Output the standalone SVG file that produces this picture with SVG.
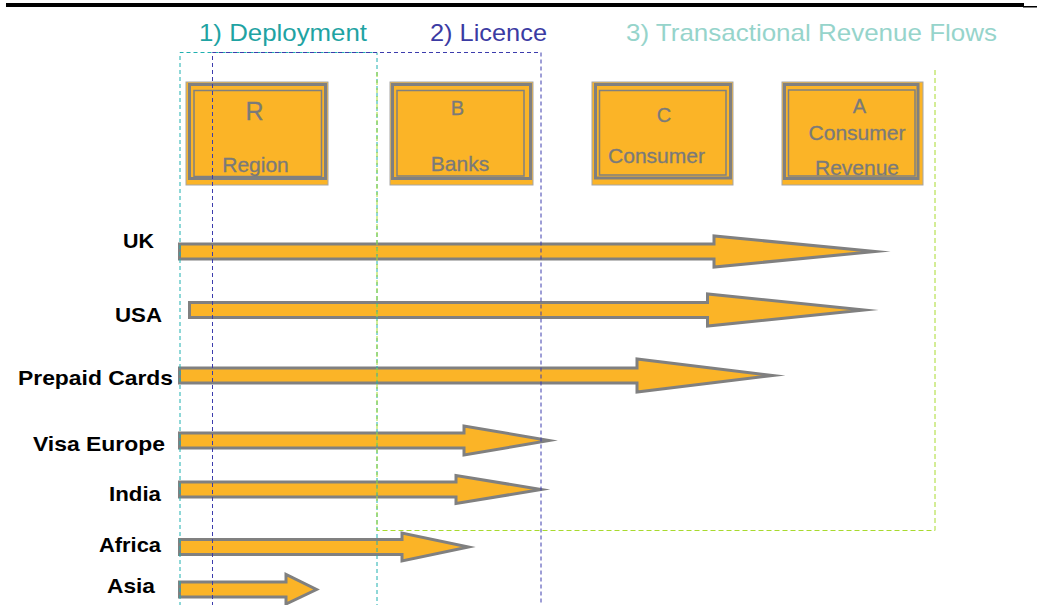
<svg xmlns="http://www.w3.org/2000/svg" width="1037" height="605" viewBox="0 0 1037 605">
  <defs>
    <style>
      .box-fill { fill: #FBB427; stroke: #A6A6A6; stroke-width: 1; }
      .box-thick { fill: none; stroke: #808080; stroke-width: 3; }
      .box-thin { fill: none; stroke: #808080; stroke-width: 1.5; }
      .box-text { font-family: "Liberation Sans", Arial, sans-serif; fill: #7A7A7A; stroke: #7A7A7A; stroke-width: 0.3; text-anchor: middle; }
      .flow { fill: #FBB427; stroke: #808080; stroke-width: 3; stroke-linejoin: miter; stroke-miterlimit: 30; }
      .row-label { font-family: "Liberation Sans", Arial, sans-serif; font-weight: bold; font-size: 21px; fill: #000000; }
      .title { font-family: "Liberation Sans", Arial, sans-serif; font-size: 24px; }
      .frame { fill: none; stroke-width: 1; }
    </style>
  </defs>

  <rect width="1037" height="605" fill="#FFFFFF"/>

  <!-- header rule -->
  <rect x="6" y="3" width="1018" height="4" fill="#000000"/>
  <rect x="1023" y="6" width="14" height="1.5" fill="#000000"/>

  <!-- section titles -->
  <text class="title" x="199" y="41" fill="#1FA3A3" textLength="168" lengthAdjust="spacingAndGlyphs">1) Deployment</text>
  <text class="title" x="430" y="41" fill="#3B3BA3" textLength="117" lengthAdjust="spacingAndGlyphs">2) Licence</text>
  <text class="title" x="626" y="41" fill="#96D4CB" textLength="371" lengthAdjust="spacingAndGlyphs">3) Transactional Revenue Flows</text>

  <!-- nodes -->
  <g id="node-region">
    <rect class="box-fill" x="186" y="82" width="142" height="103"/>
    <rect class="box-thick" x="189.5" y="84.5" width="136" height="94"/>
    <rect class="box-thin" x="194" y="90.5" width="127.5" height="86"/>
    <text class="box-text" x="254.5" y="120" font-size="25">R</text>
    <text class="box-text" x="255.5" y="172" font-size="21">Region</text>
  </g>
  <g id="node-banks">
    <rect class="box-fill" x="390" y="82" width="143" height="103"/>
    <rect class="box-thick" x="392.5" y="84.5" width="138" height="94"/>
    <rect class="box-thin" x="397" y="90.5" width="127" height="85.5"/>
    <text class="box-text" x="457.5" y="115" font-size="20">B</text>
    <text class="box-text" x="460" y="171" font-size="21">Banks</text>
  </g>
  <g id="node-consumer">
    <rect class="box-fill" x="592" y="82" width="141" height="103"/>
    <rect class="box-thick" x="595.5" y="84.5" width="135" height="93.5"/>
    <rect class="box-thin" x="599.5" y="90.5" width="126.5" height="84.5"/>
    <text class="box-text" x="664" y="122" font-size="20">C</text>
    <text class="box-text" x="656.5" y="163" font-size="21">Consumer</text>
  </g>
  <g id="node-revenue">
    <rect class="box-fill" x="782" y="82" width="141" height="103"/>
    <rect class="box-thick" x="784.5" y="84.5" width="133.5" height="94"/>
    <text class="box-text" x="859.5" y="113" font-size="20">A</text>
    <text class="box-text" x="857" y="140" font-size="21">Consumer</text>
    <text class="box-text" x="857" y="175" font-size="21">Revenue</text>
    <rect class="box-thin" x="788.5" y="90" width="126.5" height="86"/>
  </g>

  <!-- flow arrows per market -->
  <g id="flows">
    <g id="row-uk">
      <text class="row-label" x="123" y="248" textLength="31" lengthAdjust="spacingAndGlyphs">UK</text>
      <polygon class="flow" points="179.5,244 714,244 714,236 875,251.5 714,267 714,259 179.5,259"/>
    </g>
    <g id="row-usa">
      <text class="row-label" x="115" y="322" textLength="47" lengthAdjust="spacingAndGlyphs">USA</text>
      <polygon class="flow" points="189.5,302.5 707.5,302.5 707.5,294 864,310 707.5,326 707.5,317.5 189.5,317.5"/>
    </g>
    <g id="row-prepaid">
      <text class="row-label" x="18" y="385" textLength="155" lengthAdjust="spacingAndGlyphs">Prepaid Cards</text>
      <polygon class="flow" points="179.5,368 637,368 637,359 773,375.5 637,392 637,383 179.5,383"/>
    </g>
    <g id="row-visa-europe">
      <text class="row-label" x="33" y="451" textLength="132" lengthAdjust="spacingAndGlyphs">Visa Europe</text>
      <polygon class="flow" points="179.5,433 464,433 464,426 549,440.5 464,455 464,448 179.5,448"/>
    </g>
    <g id="row-india">
      <text class="row-label" x="109" y="501" textLength="52" lengthAdjust="spacingAndGlyphs">India</text>
      <polygon class="flow" points="179.5,482 456,482 456,475.5 541,489.5 456,503.5 456,497 179.5,497"/>
    </g>
    <g id="row-africa">
      <text class="row-label" x="99" y="552" textLength="62" lengthAdjust="spacingAndGlyphs">Africa</text>
      <polygon class="flow" points="179.5,539.5 402,539.5 402,533 468.5,547 402,561 402,554.5 179.5,554.5"/>
    </g>
    <g id="row-asia">
      <text class="row-label" x="107" y="593" textLength="48" lengthAdjust="spacingAndGlyphs">Asia</text>
      <polygon class="flow" points="179.5,582 286,582 286,574.5 316.5,589.5 286,604 286,597 179.5,597"/>
    </g>
  </g>

  <!-- dashed section frames -->
  <g id="frames">
    <path class="frame" d="M180,606 V52.5 H377 V606" stroke="#1FB0B0" stroke-dasharray="4 3"/>
    <path class="frame" d="M212.5,606 V52.5 H541 V606" stroke="#3C3CAD" stroke-dasharray="4 3"/>
    <path class="frame" d="M377,72 V530.5 H935 V70" stroke="#A8DA2E" stroke-dasharray="5 3" stroke-width="1.5"/>
  </g>
</svg>
